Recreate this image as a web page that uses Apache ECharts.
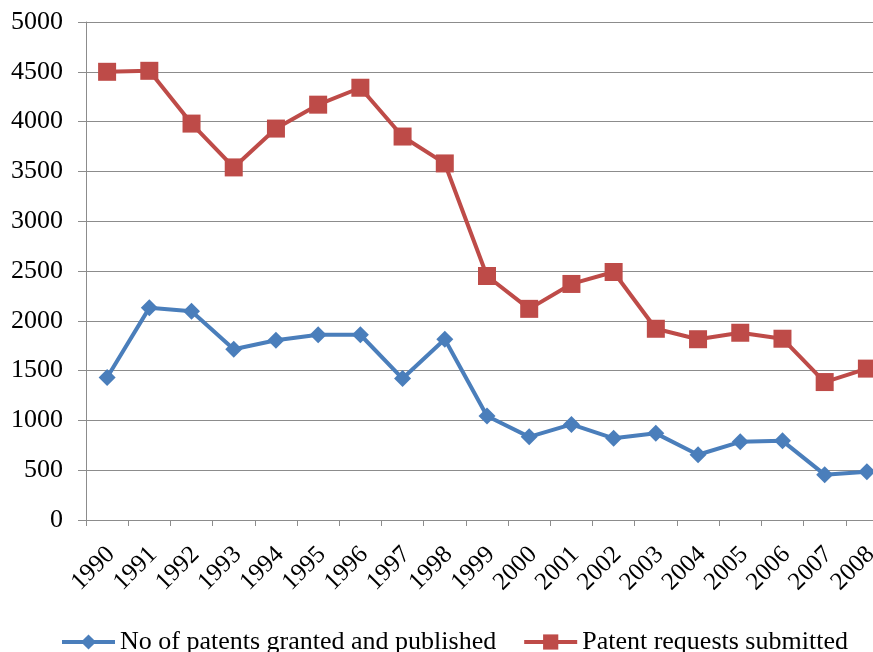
<!DOCTYPE html>
<html>
<head>
<meta charset="utf-8">
<script src="https://cdn.jsdelivr.net/npm/echarts@6/dist/echarts.min.js"></script>
<style>
  html, body { margin: 0; padding: 0; background: #ffffff; }
  #chart { width: 873px; height: 652px; }
</style>
</head>
<body>
<div id="chart"></div>
<script>
// Years on the category axis
const years = ['1990','1991','1992','1993','1994','1995','1996','1997','1998','1999',
               '2000','2001','2002','2003','2004','2005','2006','2007','2008'];

// Patents granted and published per year
const granted = [1430, 2130, 2095, 1715, 1805, 1860, 1860, 1420, 1815, 1045,
                 835, 960, 820, 870, 655, 785, 795, 455, 485];

// Patent requests submitted per year
const requests = [4500, 4510, 3980, 3540, 3930, 4170, 4340, 3850, 3580, 2450,
                  2120, 2370, 2490, 1920, 1815, 1880, 1820, 1385, 1520];

const seriesNames = ['No of patents granted and published', 'Patent requests submitted'];

const yMin = 0, yMax = 5000, yStep = 500;

const serif = '"Liberation Serif", "DejaVu Serif", serif';
const gridColor = '#8c8c8c';

const chart = echarts.init(document.getElementById('chart'));
chart.setOption({
  backgroundColor: '#ffffff',
  animation: false,
  // plot area runs a little past the right edge of the canvas
  grid: { left: 86, top: 22, width: 802, height: 498, outerBoundsMode: 'none' },
  legend: {
    top: 629,
    left: 60,
    padding: 0,
    itemGap: 26,
    itemWidth: 53,
    itemHeight: 19,
    lineStyle: { width: 4 },
    textStyle: { fontFamily: serif, fontSize: 26, color: '#000000' },
    data: seriesNames
  },
  xAxis: {
    type: 'category',
    data: years,
    boundaryGap: true,
    axisLine: { lineStyle: { color: gridColor, width: 1 } },
    axisTick: { show: true, length: 6, interval: 0, lineStyle: { color: gridColor } },
    axisLabel: {
      interval: 0,
      rotate: 45,
      margin: 27,
      verticalAlign: 'top',
      lineHeight: 11,
      fontFamily: serif,
      fontSize: 25,
      color: '#000000'
    }
  },
  yAxis: {
    type: 'value',
    min: yMin,
    max: yMax,
    interval: yStep,
    axisLine: { show: true, lineStyle: { color: gridColor, width: 1 } },
    axisTick: { show: true, length: 8, lineStyle: { color: gridColor } },
    axisLabel: {
      margin: 23,
      fontFamily: serif,
      fontSize: 26,
      color: '#000000',
      formatter: v => String(v)
    },
    splitLine: { lineStyle: { color: gridColor, width: 1 } }
  },
  series: [
    {
      name: seriesNames[0],
      type: 'line',
      data: granted,
      symbol: 'diamond',
      symbolSize: 17,
      lineStyle: { color: '#4a7ebb', width: 4 },
      itemStyle: { color: '#4a7ebb' }
    },
    {
      name: seriesNames[1],
      type: 'line',
      data: requests,
      symbol: 'rect',
      symbolSize: 18,
      lineStyle: { color: '#be4b48', width: 4 },
      itemStyle: { color: '#be4b48' }
    }
  ]
});
</script>
</body>
</html>
